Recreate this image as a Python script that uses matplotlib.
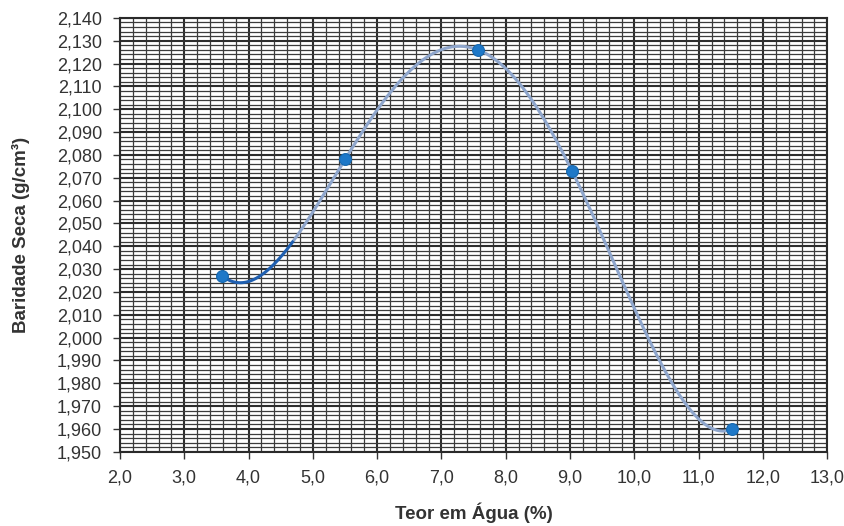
import numpy as np
import matplotlib
matplotlib.use("Agg")
import matplotlib.pyplot as plt
from matplotlib.ticker import MultipleLocator, FuncFormatter

# Compaction test results
teor_agua = [3.59, 5.50, 7.57, 9.03, 11.52]          # %
baridade_seca = [2.027, 2.078, 2.126, 2.073, 1.960]  # g/cm3

x_ticks = [2.0, 3.0, 4.0, 5.0, 6.0, 7.0, 8.0, 9.0, 10.0, 11.0, 12.0, 13.0]
y_ticks = [1.950 + 0.010 * i for i in range(20)]

plt.rcParams['font.family'] = ['Liberation Sans', 'DejaVu Sans']

fig = plt.figure(figsize=(8.45, 5.26), dpi=100)
ax = fig.add_axes([0.142, 0.141, 0.837, 0.825])

# 4th-order polynomial trend through the points
coef = np.polyfit(teor_agua, baridade_seca, 4)
xs = np.linspace(min(teor_agua), max(teor_agua), 400)
ys = np.polyval(coef, xs)
split = xs <= 4.7
ax.plot(xs[~split], ys[~split], color='#8fa6cc', lw=2.2, zorder=3,
        solid_capstyle='round')
ax.plot(xs[split], ys[split], color='#1f5fb0', lw=2.2, zorder=3)

ax.plot(teor_agua, baridade_seca, 'o', color='#1e78c8', ms=8.5,
        markeredgecolor='#1668b0', markeredgewidth=0.8, zorder=4)

ax.set_xlim(x_ticks[0], x_ticks[-1])
ax.set_ylim(y_ticks[0], y_ticks[-1])
ax.set_xticks(x_ticks)
ax.set_yticks(y_ticks)
ax.xaxis.set_minor_locator(MultipleLocator(0.2))
ax.yaxis.set_minor_locator(MultipleLocator(0.002))
ax.xaxis.set_major_formatter(FuncFormatter(lambda v, p: f"{v:.1f}".replace('.', ',')))
ax.yaxis.set_major_formatter(FuncFormatter(lambda v, p: f"{v:.3f}".replace('.', ',')))

ax.grid(which='major', color='#2e2e2e', lw=1.5, zorder=1)
ax.grid(which='minor', color='#3c3c3c', lw=0.9, zorder=1)
ax.set_axisbelow(True)

ax.tick_params(axis='both', which='major', direction='out', length=5,
               width=1.0, color='#333333', labelsize=13,
               labelcolor='#333333')
ax.tick_params(axis='x', pad=8)
ax.tick_params(axis='y', pad=8)
ax.tick_params(which='minor', length=0)
for s in ax.spines.values():
    s.set_color('#2a2a2a')
    s.set_linewidth(1.5)

ax.set_xlabel('Teor em Água (%)', fontsize=13.5, fontweight='bold',
              color='#333333', labelpad=11)
ax.set_ylabel('Baridade Seca (g/cm³)', fontsize=13.5, fontweight='bold',
              color='#333333', labelpad=19)

fig.savefig('out.png', dpi=100)
